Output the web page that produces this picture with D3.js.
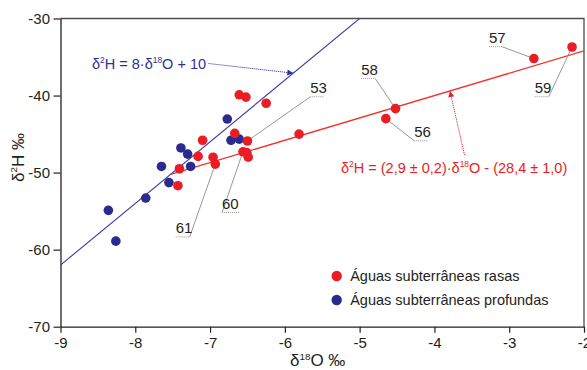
<!DOCTYPE html>
<html>
<head>
<meta charset="utf-8">
<script src="https://cdn.jsdelivr.net/npm/d3@7"></script>
<style>
  body { margin: 0; background: #fff; }
  svg { display: block; }
  text { font-family: "Liberation Sans", Arial, sans-serif; }
</style>
</head>
<body>
<svg id="chart" width="587" height="370"></svg>
<script>
// Shallow groundwater samples (δ18O, δ2H in ‰)
const rasasO = [-6.61, -6.52, -6.25, -6.67, -6.50, -7.10, -7.16, -6.96, -6.93, -7.41, -7.43, -6.56, -6.51, -6.49, -5.81, -4.52, -4.65, -2.67, -2.16];
const rasasH = [-39.9, -40.2, -41.0, -44.9, -45.9, -45.8, -47.9, -48.0, -48.9, -49.5, -51.7, -47.3, -47.4, -48.0, -45.0, -41.7, -43.0, -35.2, -33.7];
const rasasId = ["", "", "", "", "53", "", "", "", "61", "", "", "60", "", "", "", "58", "56", "57", "59"];

// Deep groundwater samples (δ18O, δ2H in ‰)
const profO = [-7.39, -7.30, -7.65, -7.26, -7.55, -7.86, -8.36, -8.26, -6.77, -6.72, -6.61];
const profH = [-46.8, -47.6, -49.2, -49.2, -51.3, -53.3, -54.9, -58.9, -43.05, -45.8, -45.65];

const xTicks = [-9, -8, -7, -6, -5, -4, -3, -2];
const yTicks = [-70, -60, -50, -40, -30];

// Global meteoric water line and the local regression line
const gmwl = { slope: 8, intercept: 10 };
const local = { slope: 2.9, intercept: -28.4 };

const legendLabels = ["Águas subterrâneas rasas", "Águas subterrâneas profundas"];

// ---- layout ----
const W = 587, H = 370;
const RED = "#ec1c24", BLUE = "#2e3192", AXIS = "#231f20";
const svg = d3.select("#chart");

const x = d3.scaleLinear().domain([-9, -2]).range([60.5, 584]);
const y = d3.scaleLinear().domain([-70, -30]).range([326.7, 18.5]);

svg.append("defs").append("clipPath").attr("id", "plot")
  .append("rect").attr("x", x(-9)).attr("y", y(-30))
  .attr("width", x(-2) - x(-9)).attr("height", y(-70) - y(-30));

const defs = svg.select("defs");
function marker(id, color) {
  defs.append("marker").attr("id", id)
    .attr("viewBox", "0 0 10 10").attr("refX", 10).attr("refY", 5)
    .attr("markerWidth", 7).attr("markerHeight", 6)
    .attr("markerUnits", "userSpaceOnUse")
    .attr("orient", "auto")
    .append("path").attr("d", "M0,0 L10,5 L0,10 Z").attr("fill", color);
}
marker("arrBlue", BLUE);
marker("arrRed", RED);

// frame (top and right)
svg.append("path")
  .attr("d", `M${x(-9)},${y(-30)} H${x(-2)} V${y(-70)}`)
  .attr("fill", "none").attr("stroke", "#4d4d4d").attr("stroke-width", 1.3);

// axes
const fmt = d => String(d);
const gx = svg.append("g").attr("transform", `translate(0,${y(-70)})`)
  .call(d3.axisBottom(x).tickValues(xTicks).tickFormat(fmt).tickSize(6).tickPadding(5).tickSizeOuter(0));
const gy = svg.append("g").attr("transform", `translate(${x(-9)},0)`)
  .call(d3.axisLeft(y).tickValues(yTicks).tickFormat(fmt).tickSize(7).tickPadding(3.5).tickSizeOuter(0));
[gx, gy].forEach(g => {
  g.select(".domain").attr("stroke", AXIS).attr("stroke-width", 1.3);
  g.selectAll(".tick line").attr("stroke", AXIS).attr("stroke-width", 1.2);
  g.selectAll(".tick text").attr("fill", AXIS).attr("font-size", 15)
    .attr("font-family", "'Liberation Sans', Arial, sans-serif");
});

// text with superscripts
function rich(parent, px, py, parts, color, size, attrs) {
  const t = parent.append("text").attr("x", px).attr("y", py)
    .attr("fill", color).attr("font-size", size);
  if (attrs) Object.entries(attrs).forEach(([k, v]) => t.attr(k, v));
  let raised = false;
  parts.forEach(p => {
    const sup = Array.isArray(p);
    const s = sup ? p[0] : p;
    const ts = t.append("tspan").text(s);
    if (sup && !raised) { ts.attr("dy", -size * 0.38).attr("font-size", size * 0.58); raised = true; }
    else if (!sup && raised) { ts.attr("dy", size * 0.38); raised = false; }
  });
  return t;
}

// axis titles
rich(svg, 290, 366, ["δ", ["18"], "O ‰"], AXIS, 17);
rich(svg, 0, 0, ["δ", ["2"], "H ‰"], AXIS, 17,
  { "text-anchor": "middle", transform: "translate(23.5,157.5) rotate(-90)" });

const plot = svg.append("g").attr("clip-path", "url(#plot)");

// regression lines
const xCross = (local.intercept - gmwl.intercept) / (gmwl.slope - local.slope);
const line = d3.line().x(d => x(d[0])).y(d => y(d[1]));
plot.append("path")
  .datum([-9, -2].map(v => [v, gmwl.slope * v + gmwl.intercept]))
  .attr("d", line).attr("fill", "none").attr("stroke", "#3b3ca0").attr("stroke-width", 1.1);
plot.append("path")
  .datum([xCross, -2].map(v => [v, local.slope * v + local.intercept]))
  .attr("d", line).attr("fill", "none").attr("stroke", "#f2302a").attr("stroke-width", 1.3);

// sample labels: underline start (δ18O, δ2H), underline width, leader from which end
const labelLayout = [
  { id: "57", o: -3.27, h: -33.66, w: 13, end: "right" },
  { id: "59", o: -2.66, h: -40.16, w: 14, end: "right" },
  { id: "58", o: -4.98, h: -37.77, w: 14, end: "right" },
  { id: "56", o: -4.27, h: -45.87, w: 14, end: "left" },
  { id: "53", o: -5.66, h: -40.16, w: 13, end: "left" },
  { id: "60", o: -6.84, h: -55.17, w: 18, end: "left" },
  { id: "61", o: -7.46, h: -58.34, w: 14, end: "right" }
];
const ann = svg.append("g");
labelLayout.forEach(L => {
  const i = rasasId.indexOf(L.id);
  const ux = x(L.o), uy = y(L.h);
  ann.append("line").attr("x1", ux).attr("x2", ux + L.w).attr("y1", uy).attr("y2", uy)
    .attr("stroke", "#8c8c8c").attr("stroke-width", 0.9).attr("stroke-dasharray", "1,1");
  const sx = L.end === "right" ? ux + L.w : ux;
  ann.append("line").attr("x1", sx).attr("y1", uy)
    .attr("x2", x(rasasO[i])).attr("y2", y(rasasH[i]))
    .attr("stroke", "#8c8c8c").attr("stroke-width", 0.9);
  ann.append("text").attr("x", ux).attr("y", uy - 3.5)
    .attr("font-size", 15).attr("fill", "#231f20").text(L.id);
});

// points
const dots = svg.append("g");
dots.selectAll("circle.prof").data(profO).join("circle").attr("class", "prof")
  .attr("cx", d => x(d)).attr("cy", (d, i) => y(profH[i])).attr("r", 4.8).attr("fill", "#2b2b8e");
dots.selectAll("circle.rasa").data(rasasO).join("circle").attr("class", "rasa")
  .attr("cx", d => x(d)).attr("cy", (d, i) => y(rasasH[i])).attr("r", 4.8).attr("fill", "#ec1c24");

// equations with dotted arrows
rich(svg, 92, 68.5, ["δ", ["2"], "H = 8·δ", ["18"], "O + 10"], BLUE, 14.5);
const gO = -5.887;
svg.append("line").attr("x1", 208.5).attr("y1", 63.5)
  .attr("x2", x(gO)).attr("y2", y(gmwl.slope * gO + gmwl.intercept))
  .attr("stroke", BLUE).attr("stroke-width", 0.9).attr("stroke-dasharray", "1.2,0.8")
  .attr("marker-end", "url(#arrBlue)");

rich(svg, 341, 172.5, ["δ", ["2"], "H = (2,9 ± 0,2)·δ", ["18"], "O - (28,4 ± 1,0)"], RED, 14.5);
const lO = -3.793;
svg.append("line").attr("x1", 464.5).attr("y1", 155)
  .attr("x2", x(lO)).attr("y2", y(local.slope * lO + local.intercept))
  .attr("stroke", RED).attr("stroke-width", 0.9).attr("stroke-dasharray", "1.2,0.8")
  .attr("marker-end", "url(#arrRed)");

// legend
const lg = svg.append("g").attr("transform", "translate(336.7,276)");
[RED, "#2b2b8e"].forEach((c, i) => {
  lg.append("circle").attr("cx", 0).attr("cy", i * 24).attr("r", 5.2).attr("fill", c);
  lg.append("text").attr("x", 13.5).attr("y", i * 24 + 5.2)
    .attr("font-size", 14.5).attr("fill", "#231f20").text(legendLabels[i]);
});
</script>
</body>
</html>
